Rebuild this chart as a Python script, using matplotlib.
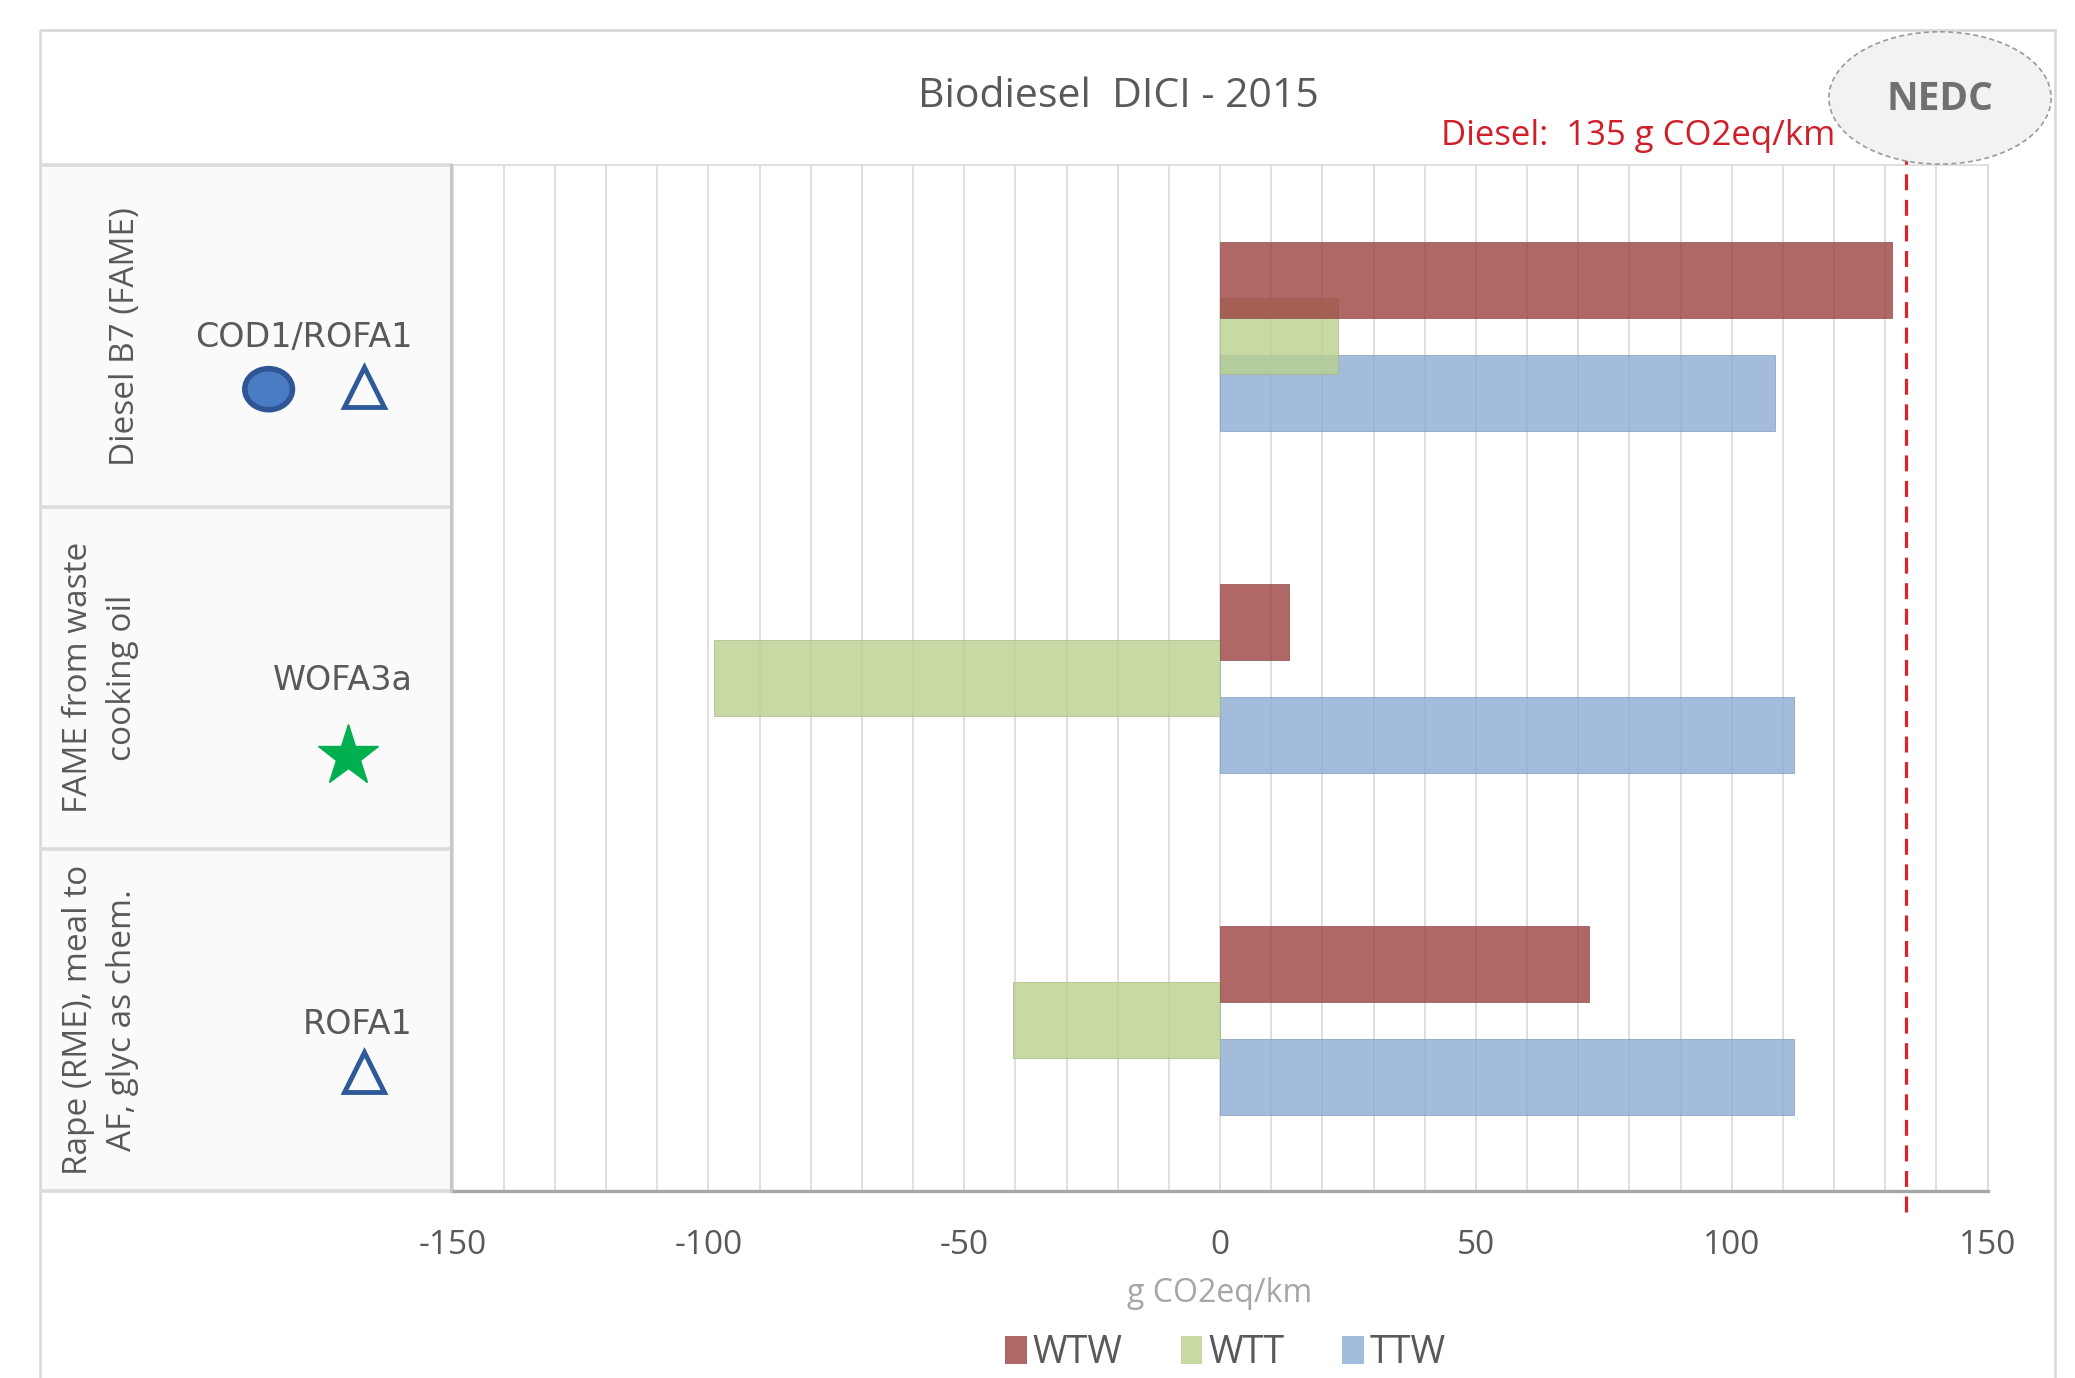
import numpy as np
import matplotlib
matplotlib.use('Agg')
import matplotlib.pyplot as plt
from matplotlib.patches import Rectangle, Ellipse, Patch

plt.rcParams['font.family'] = ['Open Sans', 'DejaVu Sans']
plt.rcParams['axes.unicode_minus'] = False

# data (g CO2eq/km)
pathways = ['Diesel B7 (FAME)', 'FAME from waste\ncooking oil', 'Rape (RME), meal to\nAF, glyc as chem.']
codes = ['COD1/ROFA1', 'WOFA3a', 'ROFA1']
wtw = [131.4, 13.5, 72.0]
wtt = [23.0, -99.0, -40.5]
ttw = [108.5, 112.2, 112.2]
diesel_ref = 134

c_wtw = '#9c4240'
c_wtt = '#bad18e'
c_ttw = '#8dabd2'
grey_txt = '#595959'

W, H = 1568, 1041  # layout units (image px / 1.323)
fig = plt.figure(figsize=(20.75, 13.78), dpi=100)
fig.patch.set_facecolor('white')

# main bar axes
ax = fig.add_axes([342 / W, 1 - 900 / H, 1160 / W, 775 / H], zorder=1)
y = np.arange(len(pathways))
off = 0.166
hgt = 0.222
ax.barh(y + off, ttw, height=hgt, color=c_ttw, alpha=0.8, edgecolor='#7f95b5', linewidth=0.6, zorder=3)
ax.barh(y, wtt, height=hgt, color=c_wtt, alpha=0.8, edgecolor='#a5b585', linewidth=0.6, zorder=4)
ax.barh(y - off, wtw, height=hgt, color=c_wtw, alpha=0.8, edgecolor='#8a4a48', linewidth=0.6, zorder=5)

ax.set_xlim(-150, 150)
ax.set_ylim(len(pathways) - 0.5, -0.5)
ax.set_xticks(np.arange(-150, 151, 50))
ax.set_xticks(np.arange(-150, 151, 10), minor=True)
ax.set_yticks([])
ax.grid(True, which='both', axis='x', color='#d9d9d9', linewidth=1.2, zorder=0)
ax.set_axisbelow(True)
ax.tick_params(axis='x', which='both', length=0, pad=27, labelsize=24, labelcolor=grey_txt)
for s in ['top', 'right']:
    ax.spines[s].set_color('#d9d9d9')
    ax.spines[s].set_linewidth(1.2)
ax.spines['left'].set_visible(False)
ax.spines['bottom'].set_color('#a6a6a6')
ax.spines['bottom'].set_linewidth(2.4)
ax.set_xlabel('g CO2eq/km', fontsize=23, color='#a6a6a6', labelpad=11)

# NEDC diesel reference
ax.axvline(diesel_ref, ymin=-0.02, ymax=1.007, color='#d9262e', linewidth=2.3,
           linestyle=(0, (5, 3)), clip_on=False, zorder=6)

# overlay for frame, category column and annotations (layout units)
ov = fig.add_axes([0, 0, 1, 1], zorder=2)
ov.set_xlim(0, W)
ov.set_ylim(H, 0)
ov.axis('off')
ov.patch.set_visible(False)

ov.add_patch(Rectangle((30, 23), 1523, 1030, fill=False, edgecolor='#d9d9d9', linewidth=2))
rows = [125, 383, 641, 900]
ov.add_patch(Rectangle((30, 125), 312, 775, facecolor='#fafafa', edgecolor='none', zorder=0))
for r in rows:
    ov.plot([30, 342], [r, r], color='#dcdcdc', linewidth=2.6, solid_capstyle='butt')
ov.plot([341, 341], [125, 900], color='#c8c8c8', linewidth=2.2)

ov.text(845, 73, 'Biodiesel  DICI - 2015', fontsize=29.5, color=grey_txt, ha='center', va='center')
ov.text(1387, 103, 'Diesel:  135 g CO2eq/km', fontsize=25, color='#d01f29', ha='right', va='center')
ov.add_patch(Ellipse((1466, 74), 168, 100, facecolor='#f2f2f2', edgecolor='#9a9a9a',
                     linewidth=1.2, linestyle=(0, (3, 2)), zorder=3))
ov.text(1466, 75, 'NEDC', fontsize=28, fontweight='bold', color='#707070', ha='center', va='center', zorder=4)

# category labels
mids = [(rows[i] + rows[i + 1]) / 2 for i in range(3)]
ov.text(95, mids[0], pathways[0], rotation=90, fontsize=24, color=grey_txt, ha='center', va='center')
for i in [1, 2]:
    ov.text(76, mids[i], pathways[i], rotation=90, fontsize=24, color=grey_txt, ha='center',
            va='center', multialignment='center', linespacing=1.45)

ov.text(312, 255, codes[0], fontsize=24, color=grey_txt, ha='right', va='center', family='DejaVu Sans')
ov.text(312, 514, codes[1], fontsize=24, color=grey_txt, ha='right', va='center', family='DejaVu Sans')
ov.text(312, 774, codes[2], fontsize=24, color=grey_txt, ha='right', va='center', family='DejaVu Sans')

ov.add_patch(Ellipse((203, 294), 36, 31, facecolor='#4a7cc4', edgecolor='#2f5597', linewidth=4))
ov.plot([275], [292], marker='^', markersize=29, markerfacecolor='none', markeredgecolor='#2e5a9a',
        markeredgewidth=3.5, linestyle='none')
ov.plot([263], [571], marker='*', markersize=46, color='#00b050', linestyle='none')
ov.plot([275], [810], marker='^', markersize=29, markerfacecolor='none', markeredgecolor='#2e5a9a',
        markeredgewidth=3.5, linestyle='none')

# legend
handles = [Patch(facecolor=c, alpha=0.8, edgecolor='none') for c in [c_wtw, c_wtt, c_ttw]]
fig.legend(handles, ['WTW', 'WTT', 'TTW'], loc='center', bbox_to_anchor=(926 / W, 1 - 1022 / H),
           ncol=3, frameon=False, fontsize=27, labelcolor=grey_txt, handlelength=0.58,
           handleheight=0.78, handletextpad=0.15, columnspacing=1.55)

fig.savefig('out.png', dpi=100)
